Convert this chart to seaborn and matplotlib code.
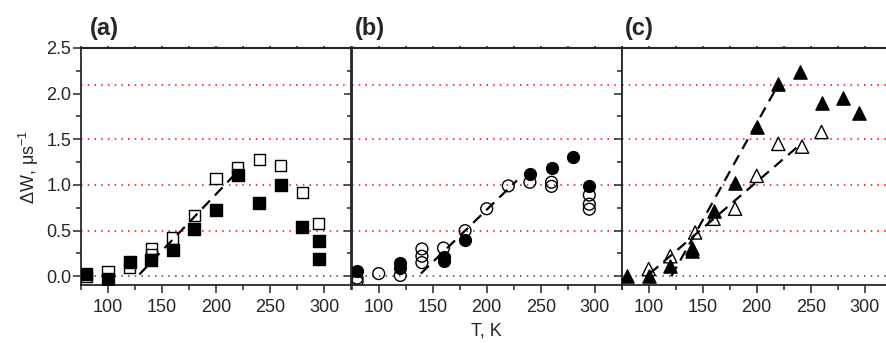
import numpy as np
import pandas as pd
import seaborn as sns
import matplotlib.pyplot as plt

# panel (a): squares
a_full_T = [80, 100, 120, 140, 160, 180, 200, 220, 240, 260, 280, 295, 295]
a_full_W = [0.02, -0.03, 0.155, 0.18, 0.29, 0.52, 0.73, 1.11, 0.80, 1.00, 0.54, 0.39, 0.19]
a_open_T = [80, 100, 120, 140, 140, 160, 180, 200, 220, 240, 260, 280, 295]
a_open_W = [0.0, 0.05, 0.10, 0.30, 0.24, 0.42, 0.67, 1.07, 1.19, 1.28, 1.21, 0.92, 0.58]
a_fit_T = [129, 217]
a_fit_W = [0.02, 1.11]

# panel (b): circles
b_full_T = [80, 120, 120, 160, 160, 180, 240, 260, 280, 295]
b_full_W = [0.06, 0.145, 0.09, 0.21, 0.165, 0.40, 1.125, 1.19, 1.31, 0.99]
b_open_T = [80, 80, 100, 120, 140, 140, 140, 160, 180, 200, 220, 240, 260, 260, 295, 295, 295]
b_open_W = [-0.02, -0.06, 0.03, 0.01, 0.30, 0.22, 0.15, 0.31, 0.50, 0.74, 0.99, 1.03, 1.03, 0.985, 0.89, 0.79, 0.735]
b_fit_T = [139, 228]
b_fit_W = [0.03, 1.05]

# panel (c): triangles
c_full_T = [80, 100, 120, 140, 140, 160, 180, 200, 220, 240, 260, 280, 295]
c_full_W = [0.0, 0.0, 0.11, 0.28, 0.31, 0.72, 1.02, 1.64, 2.11, 2.24, 1.90, 1.95, 1.79]
c_open_T = [100, 120, 143, 160, 180, 200, 220, 242, 260]
c_open_W = [0.08, 0.22, 0.48, 0.63, 0.74, 1.10, 1.45, 1.42, 1.58]
c_fit1_T = [121, 220]
c_fit1_W = [0.0, 2.10]
c_fit2_T = [101, 240]
c_fit2_W = [0.03, 1.44]

red_levels = [0.5, 1.0, 1.5, 2.1]
x_ticks = [100, 150, 200, 250, 300]
y_ticks = [0.0, 0.5, 1.0, 1.5, 2.0, 2.5]

sns.set_style('ticks')
plt.rcParams['font.family'] = ['Liberation Sans', 'DejaVu Sans']
plt.rcParams['mathtext.default'] = 'regular'

fig = plt.figure(figsize=(8.86, 3.43), dpi=100)
w = 270 / 886
lefts = [81 / 886, 351.7 / 886, 621.7 / 886]
bottom = 1 - 285 / 343
height = (285 - 48) / 343
axes = [fig.add_axes([l, bottom, w, height]) for l in lefts]

panels = [
    ('(a)', 's', 8, a_full_T, a_full_W, a_open_T, a_open_W, [(a_fit_T, a_fit_W)], 0.033),
    ('(b)', 'o', 8.5, b_full_T, b_full_W, b_open_T, b_open_W, [(b_fit_T, b_fit_W)], 0.012),
    ('(c)', '^', 9.5, c_full_T, c_full_W, c_open_T, c_open_W,
     [(c_fit1_T, c_fit1_W), (c_fit2_T, c_fit2_W)], 0.012),
]

for i, (ax, p) in enumerate(zip(axes, panels)):
    name, mk, ms, fT, fW, oT, oW, fits, lx = p
    for lv in red_levels:
        ax.axhline(lv, color='red', lw=1.1, ls=(0, (1, 3.4)), zorder=1)
    ax.axhline(0, color='#444444', lw=1.1, ls=(0, (1, 3.4)), zorder=1)
    for fx, fy in fits:
        sns.lineplot(x=fx, y=fy, ax=ax, color='black', lw=1.6,
                     dashes=False, zorder=2).lines[-1].set_dashes((5, 3.2))
    df_f = pd.DataFrame({'T': fT, 'W': fW})
    df_o = pd.DataFrame({'T': oT, 'W': oW})
    sns.scatterplot(data=df_o, x='T', y='W', ax=ax, marker=mk, s=ms ** 2,
                    facecolor='none', edgecolor='black', linewidth=1.0, zorder=3)
    sns.scatterplot(data=df_f, x='T', y='W', ax=ax, marker=mk, s=ms ** 2,
                    color='black', edgecolor='black', linewidth=1.0, zorder=4)
    ax.set_xlim(75, 325)
    ax.set_ylim(-0.095, 2.5)
    ax.set_xticks(x_ticks)
    ax.set_xticks(np.arange(75, 326, 25), minor=True)
    ax.set_yticks(y_ticks)
    ax.set_yticks(np.arange(0, 2.51, 0.25), minor=True)
    ax.tick_params(axis='both', which='major', length=6, width=1.1, labelsize=13)
    ax.tick_params(axis='both', which='minor', length=3.5, width=1.1)
    ax.tick_params(axis='x', which='major', pad=4)
    ax.tick_params(axis='y', pad=1)
    ax.xaxis.set_major_formatter(plt.FuncFormatter(lambda v, _: '%d' % v))
    ax.yaxis.set_major_formatter(plt.FuncFormatter(lambda v, _: '%.1f' % v))
    if i > 0:
        ax.tick_params(axis='y', labelleft=False)
    top = ax.secondary_xaxis('top')
    top.set_xticks(np.arange(75, 326, 25))
    top.tick_params(length=1.5, width=1.1, labeltop=False)
    for s in ax.spines.values():
        s.set_linewidth(1.3)
    top.spines['top'].set_linewidth(1.5)
    ax.set_xlabel('')
    ax.set_ylabel('')
    ax.text(lx, 1.035, name, transform=ax.transAxes, fontsize=17,
            fontweight='bold', ha='left', va='bottom')

axes[0].set_ylabel('ΔW, μs$^{-1}$', fontsize=13, labelpad=4)
axes[1].set_xlabel('T, K', fontsize=13, labelpad=5)

fig.savefig('out.png', dpi=100)
